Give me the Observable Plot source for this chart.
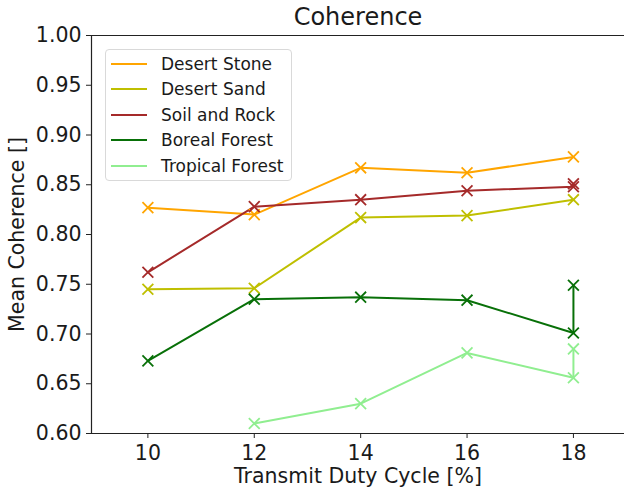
<!DOCTYPE html>
<html>
<head>
<meta charset="utf-8">
<script src="https://cdn.jsdelivr.net/npm/d3@7"></script>
<script src="https://cdn.jsdelivr.net/npm/@observablehq/plot@0.6"></script>
<style>
  html, body { margin: 0; padding: 0; background: #fff; }
  #wrap { position: relative; width: 624px; height: 492px; overflow: hidden; font-family: "DejaVu Sans", sans-serif; }
  #legend { position: absolute; left: 105px; top: 49px; width: 187px; height: 132px;
    border: 1px solid #d9d9d9; border-radius: 4px; background: rgba(255,255,255,0.8); box-sizing: border-box; }
  .row { position: absolute; left: 0; height: 22px; display: flex; align-items: center; }
  .sw { width: 36px; height: 2px; margin-left: 5px; margin-right: 14px; }
  .lab { font-size: 17px; color: #1a1a1a; white-space: nowrap; }
</style>
</head>
<body>
<div id="wrap"><div id="legend"></div></div>
<script>
const seriesNames = ["Desert Stone", "Desert Sand", "Soil and Rock", "Boreal Forest", "Tropical Forest"];
const seriesColors = ["#ffa500", "#bfbf00", "#a52a2a", "#087008", "#90ee90"];

const desertStoneX = [10, 12, 14, 16, 18];
const desertStoneY = [0.827, 0.820, 0.867, 0.862, 0.878];
const desertSandX = [10, 12, 14, 16, 18];
const desertSandY = [0.745, 0.746, 0.817, 0.819, 0.835];
const soilRockX = [10, 12, 14, 16, 18, 18];
const soilRockY = [0.762, 0.828, 0.835, 0.844, 0.848, 0.851];
const borealX = [10, 12, 14, 16, 18, 18];
const borealY = [0.673, 0.735, 0.737, 0.734, 0.701, 0.749];
const tropicalX = [12, 14, 16, 18, 18];
const tropicalY = [0.610, 0.630, 0.681, 0.656, 0.685];

const xTicks = [10, 12, 14, 16, 18];
const yTicks = [0.60, 0.65, 0.70, 0.75, 0.80, 0.85, 0.90, 0.95, 1.00];
const xDomain = [8.94, 18.96];
const yDomain = [0.60, 1.00];

const allX = [desertStoneX, desertSandX, soilRockX, borealX, tropicalX];
const allY = [desertStoneY, desertSandY, soilRockY, borealY, tropicalY];
const data = [];
seriesNames.forEach((name, i) => {
  allX[i].forEach((x, j) => data.push({series: name, order: i, x, y: allY[i][j]}));
});

const color = {domain: seriesNames, range: seriesColors};

const chart = Plot.plot({
  width: 624,
  height: 492,
  marginLeft: 91,
  marginRight: 0,
  marginTop: 35,
  marginBottom: 59,
  style: {fontFamily: "DejaVu Sans, sans-serif", fontSize: "20px", color: "#1a1a1a", background: "#fff"},
  x: {domain: xDomain, ticks: xTicks, tickFormat: d => String(d), label: null},
  y: {domain: yDomain, ticks: yTicks, tickFormat: d3.format(".2f"), label: null},
  color,
  marks: [
    Plot.line(data, {x: "x", y: "y", z: "series", stroke: "series", strokeWidth: 2}),
    Plot.dot(data, {x: "x", y: "y", stroke: "series", symbol: "times", r: 5, strokeWidth: 1.8}),
    Plot.ruleX([xDomain[0]], {stroke: "#222", strokeWidth: 1.2}),
    Plot.ruleY(yDomain, {stroke: "#222", strokeWidth: 1.2}),
    Plot.axisX({ticks: xTicks, tickFormat: d => String(d), tickSize: 5, tickPadding: 7, fontSize: 20.5, label: null, stroke: "#222"}),
    Plot.axisY({ticks: yTicks, tickFormat: d3.format(".2f"), tickSize: 5, tickPadding: 5, fontSize: 20.5, label: null, stroke: "#222"}),
    Plot.text(["Transmit Duty Cycle [%]"], {frameAnchor: "bottom", lineAnchor: "middle", dy: 43, fontSize: 20.5, fill: "#1a1a1a"}),
    Plot.text(["Mean Coherence []"], {frameAnchor: "left", textAnchor: "middle", lineAnchor: "middle", dx: -74, rotate: -90, fontSize: 20.5, fill: "#1a1a1a"}),
    Plot.text(["Coherence"], {frameAnchor: "top", lineAnchor: "middle", dy: -18, fontSize: 24, fill: "#1a1a1a"})
  ]
});
document.getElementById("wrap").prepend(chart);
chart.style.position = "absolute";
chart.style.left = "0";
chart.style.top = "0";

const legend = document.getElementById("legend");
const rowTops = [2.5, 28, 53.5, 79, 104.5];
seriesNames.forEach((name, i) => {
  const row = document.createElement("div");
  row.className = "row";
  row.style.top = rowTops[i] + "px";
  const sw = document.createElement("div");
  sw.className = "sw";
  sw.style.background = seriesColors[i];
  const lab = document.createElement("div");
  lab.className = "lab";
  lab.textContent = name;
  row.appendChild(sw);
  row.appendChild(lab);
  legend.appendChild(row);
});
</script>
</body>
</html>
